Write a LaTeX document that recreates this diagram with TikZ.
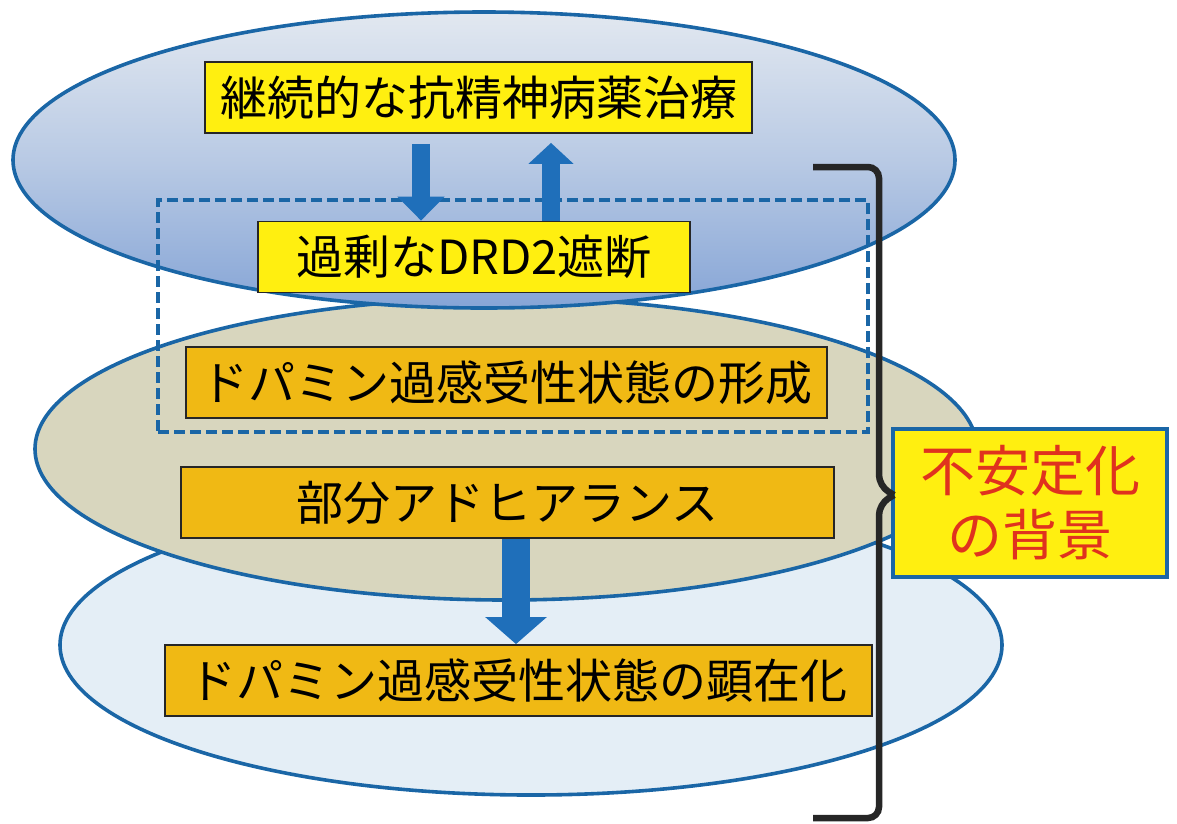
\documentclass[tikz,border=0pt]{standalone}
\usepackage{fontspec}
\newfontfamily\jp{Noto Sans CJK JP}
\usetikzlibrary{shapes.geometric,arrows.meta}
\definecolor{edgeblue}{HTML}{1A66A6}
\definecolor{arrowblue}{HTML}{1F6FBA}
\definecolor{topA}{HTML}{E2E8F0}
\definecolor{topB}{HTML}{86A5D6}
\definecolor{midfill}{HTML}{D8D6BE}
\definecolor{lowfill}{HTML}{E4EEF6}
\definecolor{boxyellow}{HTML}{FFEF10}
\definecolor{boxorange}{HTML}{F0B914}
\definecolor{labelred}{HTML}{E0321E}
\begin{document}
\begin{tikzpicture}[x=1pt,y=-1pt,
  layer/.style={ellipse, draw=edgeblue, line width=3.6pt, inner sep=0pt, minimum width=942pt},
  ybox/.style={draw=black!85, line width=1.8pt, fill=boxyellow, minimum height=71pt, inner sep=0pt,
    font=\jp\fontsize{47}{52}\selectfont},
  obox/.style={ybox, fill=boxorange},
  bigarrow/.style={draw=arrowblue, line width=#1},
  dashframe/.style={draw=edgeblue, line width=3.6pt, dash pattern=on 11pt off 5pt},
  bracepath/.style={draw=black!85, line width=6.5pt, rounded corners=11pt},
  labelbox/.style={draw=edgeblue, line width=3.6pt, fill=boxyellow, inner sep=0pt,
    minimum width=274pt, minimum height=148pt, align=center, text=labelred,
    font=\jp\fontsize{55}{64}\selectfont},
]
\useasboundingbox (0,0) rectangle (1177,823);

% layers
\node[layer, minimum height=300pt, fill=lowfill] (e3) at (531,645) {};
\node[layer, minimum height=302pt, fill=midfill] (e2) at (506,449) {};
\node[layer, minimum height=296pt, top color=topA, bottom color=topB, middle color=topA!55!topB] (e1) at (484,160) {};

% dashed frame
\node[dashframe, minimum width=710pt, minimum height=232pt, inner sep=0pt] (frame) at (513,316) {};

% boxes
\node[ybox, minimum width=547pt] (b1) at (478.5,97.5) {継続的な抗精神病薬治療};
\node[ybox, minimum width=432pt] (b2) at (474,257) {過剰なDRD2遮断};
\node[obox, minimum width=641pt] (b3) at (506.5,382.5) {ドパミン過感受性状態の形成};
\node[obox, minimum width=653pt] (b4) at (507.5,502.5) {部分アドヒアランス};
\node[obox, minimum width=707pt] (b5) at (518.5,680.5) {ドパミン過感受性状態の顕在化};

% arrows
\coordinate (ax1) at (421,0);
\coordinate (ax2) at (551,0);
\coordinate (ax3) at (516,0);
\draw[bigarrow=18pt, -{Triangle[width=46pt,length=24pt]}, shorten <=10pt]
  (b1.south -| ax1) -- (b2.north -| ax1);
\draw[bigarrow=18pt, -{Triangle[width=44pt,length=21pt]}, shorten >=9pt]
  (b2.north -| ax2) -- (b1.south -| ax2);
\draw[bigarrow=28pt, -{Triangle[width=60pt,length=27pt]}]
  (b4.south -| ax3) -- (b5.north -| ax3);

% label and brace
\node[labelbox] (lab) at (1030,503) {不安定化\\の背景};
\coordinate (bt) at (813,167);
\coordinate (bb) at (813,818);
\draw[bracepath] (bt) -- (879,167) -- (879,486) -- (894,495);
\draw[bracepath] (894,495) -- (879,504) -- (879,818) -- (bb);
\end{tikzpicture}
\end{document}
